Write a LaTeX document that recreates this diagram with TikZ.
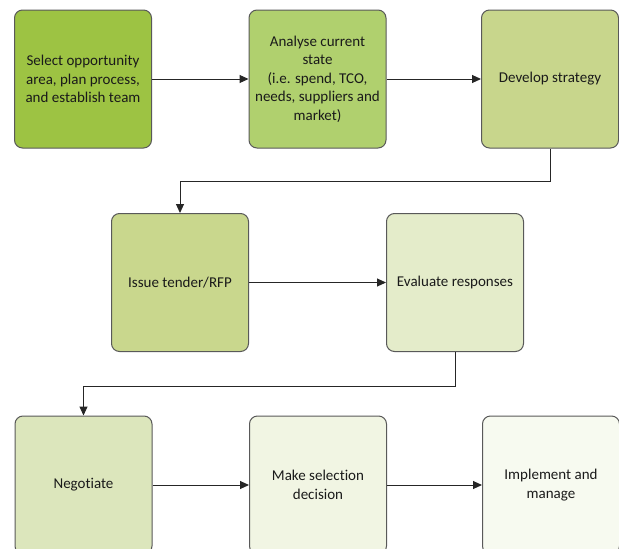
\documentclass[tikz,border=0pt]{standalone}
\usepackage{fontspec}
\setmainfont[Ligatures={NoCommon}]{Carlito}
\usetikzlibrary{arrows.meta}
\definecolor{cA}{HTML}{9DC343}
\definecolor{cB}{HTML}{B0D06E}
\definecolor{cC}{HTML}{C8D68C}
\definecolor{cD}{HTML}{C9D78D}
\definecolor{cE}{HTML}{E4ECCA}
\definecolor{cF}{HTML}{DCE6BC}
\definecolor{cG}{HTML}{F1F5E3}
\definecolor{cH}{HTML}{F7FAF0}
\definecolor{edge}{HTML}{595959}
\definecolor{txt}{HTML}{1A1A1A}
\tikzset{
  stepbox/.style={draw=edge, line width=1pt, rounded corners=8pt,
    minimum width=137pt, minimum height=138pt, inner sep=2pt,
    align=center, text=txt, font=\fontsize{15}{18.5}\selectfont},
  flow/.style={draw=black!85, line width=1pt, -{Triangle[length=9pt,width=8pt]}}
}
\begin{document}
\begin{tikzpicture}[x=1pt,y=-1pt]
\useasboundingbox (0,0) rectangle (619,549);
\clip (0,0) rectangle (619,549);
\fill[white] (0,0) rectangle (619,549);
\node[stepbox, fill=cA] (b1) at (83,79) {Select opportunity\\area, plan process,\\and establish team};
\node[stepbox, fill=cB] (b2) at (317.5,79) {Analyse current\\state\\(i.e. spend, TCO,\\needs, suppliers and\\market)};
\node[stepbox, fill=cC] (b3) at (550,79) {Develop strategy};
\node[stepbox, fill=cD] (b4) at (180,282.5) {Issue tender/RFP};
\node[stepbox, fill=cE] (b5) at (455,282.5) {Evaluate responses};
\node[stepbox, fill=cF] (b7) at (83.5,485) {Negotiate};
\node[stepbox, fill=cG] (b8) at (318,485) {Make selection\\decision};
\node[stepbox, fill=cH] (b9) at (551,485) {Implement and\\manage};
\draw[flow] (b1) -- (b2);
\draw[flow] (b2) -- (b3);
\draw[flow] (b3.south) -- ++(0,33) -| (b4.north);
\draw[flow] (b4) -- (b5);
\draw[flow] (b5.south) -- ++(0,34) -| (b7.north);
\draw[flow] (b7) -- (b8);
\draw[flow] (b8) -- (b9);
\end{tikzpicture}
\end{document}
